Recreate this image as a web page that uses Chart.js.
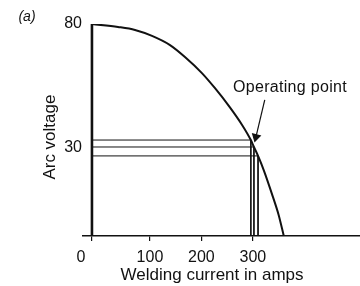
<!DOCTYPE html>
<html lang="en">
<head>
    <meta charset="UTF-8">
    <title>Arc voltage vs welding current</title>
    <script src="https://cdn.jsdelivr.net/npm/chart.js"></script>
    <style>
        html, body { margin: 0; padding: 0; background: #fff; }
        .chart-wrapper { width: 360px; height: 286px; }
    </style>
</head>
<body>
<div class="chart-wrapper"><canvas id="chart"></canvas></div>
<script>
    // drooping characteristic
    const currentAmps = [-12.6, 38, 71, 104, 139, 168, 201, 226, 255, 279, 296, 302, 310, 321, 339, 350, 360]
    const arcVolts = [80, 78.8, 77.6, 75.2, 71.5, 66.7, 60.2, 54.2, 46.5, 39.3, 33.2, 30.4, 26.8, 21.1, 10.2, 3.0, -5.5]

    // the three operating points with their guide lines
    const opCurrent = [296, 302, 310]
    const opVoltage = [33.2, 30.4, 26.8]

    // arrow from the label down to the operating point
    const arrowCurrent = [323, 305.8]
    const arrowVoltage = [49.4, 34.4]
    const opLabel = 'Operating point'
    const opLabelAt = [372, 54.2]

    const xTickValues = [-12.6, 100, 200, 300]
    const xTickLabels = ['0     ', '100', '200', '300']
    const yTickValues = [30, 80]

    const axisX = -12.6   // where the vertical axis is drawn
    const yMin = -5.5, yMax = 80
    const ink = '#111'
    const font = '"Liberation Sans", Arial, sans-serif'

    const toPoints = (xs, ys) => xs.map((v, i) => ({x: v, y: ys[i]}))

    const datasets = [
        {
            data: toPoints(currentAmps, arcVolts),
            borderColor: ink,
            borderWidth: 2,
            cubicInterpolationMode: 'monotone',
        },
        {
            data: [{x: axisX, y: yMin}, {x: axisX, y: yMax}],
            borderColor: ink,
            borderWidth: 2.6,
        },
    ]

    for (let i = 0; i < opCurrent.length; i++) {
        datasets.push({
            data: [
                {x: axisX, y: opVoltage[i]},
                {x: opCurrent[i], y: opVoltage[i]},
                {x: opCurrent[i], y: yMin},
            ],
            borderColor: ink,
            borderWidth: 1,
        })
    }

    datasets.push({
        data: toPoints(arrowCurrent, arrowVoltage),
        borderColor: ink,
        backgroundColor: ink,
        borderWidth: 1.2,
        pointRadius: [0, 4.5],
        pointStyle: 'triangle',
        rotation: 194,
    })

    const labelPlugin = {
        id: 'labels',
        afterDatasetsDraw(chart) {
            const {ctx, scales: {x, y}} = chart
            ctx.save()
            ctx.fillStyle = ink
            ctx.textAlign = 'center'
            ctx.textBaseline = 'middle'
            ctx.font = '16px ' + font
            ctx.letterSpacing = '0.3px'
            ctx.fillText(opLabel, x.getPixelForValue(opLabelAt[0]), y.getPixelForValue(opLabelAt[1]))
            ctx.letterSpacing = '0px'
            ctx.font = 'italic 14px ' + font
            ctx.fillText('(a)', 27, 17)
            ctx.restore()
        }
    }

    new Chart(document.getElementById('chart'), {
        type: 'scatter',
        data: {datasets: datasets},
        plugins: [labelPlugin],
        options: {
            animation: false,
            responsive: true,
            maintainAspectRatio: false,
            showLine: true,
            // the arrow head would otherwise make chart.js pad the plot area
            layout: {autoPadding: false, padding: {top: 24, right: 0, left: 0, bottom: 0}},
            elements: {point: {radius: 0, hoverRadius: 0}, line: {tension: 0}},
            plugins: {legend: {display: false}, tooltip: {enabled: false}},
            scales: {
                x: {
                    type: 'linear',
                    min: -30,
                    max: 508,
                    afterBuildTicks: scale => {
                        scale.ticks = xTickValues.map(v => ({value: v}))
                    },
                    afterFit: scale => {
                        scale.height = 50
                    },
                    ticks: {
                        color: ink,
                        padding: 7,
                        maxRotation: 0,
                        autoSkip: false,
                        font: {family: font, size: 16},
                        callback: (v, i) => xTickLabels[i],
                    },
                    grid: {
                        drawOnChartArea: false,
                        drawTicks: true,
                        tickLength: 5,
                        color: ink,
                        lineWidth: 1.2,
                    },
                    border: {display: true, color: ink, width: 1.5},
                    title: {
                        display: true,
                        // trailing spaces pull the centred title a little to the left
                        text: 'Welding current in amps    ',
                        color: ink,
                        padding: {top: 0, bottom: 0},
                        font: {family: font, size: 17},
                    },
                },
                y: {
                    type: 'linear',
                    min: yMin,
                    max: yMax,
                    afterBuildTicks: scale => {
                        scale.ticks = yTickValues.map(v => ({value: v}))
                    },
                    afterFit: scale => {
                        scale.width = 83
                    },
                    ticks: {
                        color: ink,
                        padding: 1,
                        font: {family: font, size: 16},
                    },
                    grid: {display: false, drawTicks: false},
                    border: {display: false},
                    title: {
                        display: true,
                        text: 'Arc voltage   ',
                        color: ink,
                        padding: {top: 40, bottom: 0},
                        font: {family: font, size: 17},
                    },
                },
            },
        },
    })
</script>
</body>
</html>
